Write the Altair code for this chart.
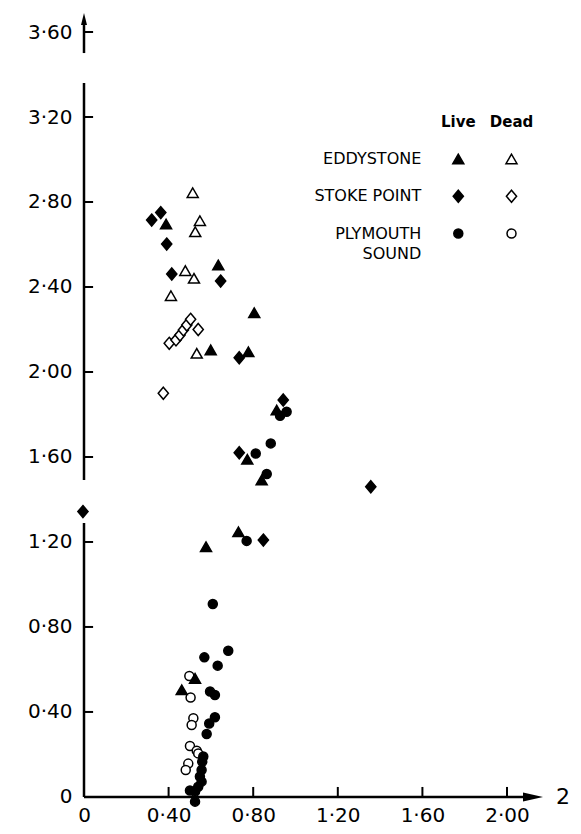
import altair as alt
import pandas as pd

# ---------------- data ----------------
SITES = ["Eddystone", "Stoke Point", "Plymouth Sound"]
STATUSES = ["Live", "Dead"]
LEGEND_LINES = ["EDDYSTONE", "STOKE POINT", "PLYMOUTH"]
LEGEND_SECOND_LINE = "SOUND"
X_LABEL = "2"

EDDY_LIVE_X = [0.388, 0.635, 0.805, 0.599, 0.777, 0.911, 0.772, 0.840, 0.577, 0.730, 0.525, 0.462]
EDDY_LIVE_Y = [2.696, 2.504, 2.279, 2.104, 2.095, 1.821, 1.589, 1.492, 1.178, 1.248, 0.558, 0.504]
EDDY_DEAD_X = [0.514, 0.548, 0.526, 0.479, 0.520, 0.411, 0.533]
EDDY_DEAD_Y = [2.844, 2.712, 2.660, 2.477, 2.441, 2.359, 2.088]
STOKE_LIVE_X = [0.320, 0.363, 0.391, 0.415, 0.646, 0.734, 0.942, 0.734, 1.356, -0.005, 0.848]
STOKE_LIVE_Y = [2.715, 2.750, 2.602, 2.461, 2.428, 2.067, 1.868, 1.620, 1.460, 1.343, 1.209]
STOKE_DEAD_X = [0.403, 0.435, 0.454, 0.470, 0.486, 0.504, 0.540, 0.375]
STOKE_DEAD_Y = [2.135, 2.151, 2.174, 2.198, 2.221, 2.248, 2.200, 1.900]
PLYM_LIVE_X = [0.958, 0.927, 0.883, 0.812, 0.864, 0.769, 0.609, 0.682, 0.569, 0.632, 0.596, 0.619,
               0.619, 0.592, 0.580, 0.559, 0.564, 0.556, 0.548, 0.556, 0.540, 0.525, 0.501, 0.525]
PLYM_LIVE_Y = [1.813, 1.794, 1.664, 1.616, 1.520, 1.205, 0.908, 0.688, 0.657, 0.618, 0.496, 0.480,
               0.375, 0.346, 0.296, 0.166, 0.190, 0.127, 0.096, 0.072, 0.048, 0.025, 0.030, -0.022]
PLYM_DEAD_X = [0.498, 0.504, 0.517, 0.509, 0.501, 0.533, 0.540, 0.493, 0.481]
PLYM_DEAD_Y = [0.569, 0.468, 0.370, 0.339, 0.240, 0.218, 0.205, 0.157, 0.127]

Y_TICKS = [0, 0.4, 0.8, 1.2, 1.6, 2.0, 2.4, 2.8, 3.2, 3.6]
X_TICKS = [0, 0.4, 0.8, 1.2, 1.6, 2.0]

# ---------------- layout / style constants ----------------
X_DOMAIN = [0, 2.312]
Y_DOMAIN = [-0.052, 3.713]
W, H = 489, 800
FONT = "DejaVu Sans"
Y_AXIS_BREAKS = [(0, 1.289), (1.492, 3.36), (3.501, 3.65)]   # broken y axis segments
X_AXIS_END = 2.08
X_ARROW_AT = 2.123
Y_ARROW_AT = 3.661
X_TICK_LEN = 0.047
Y_TICK_LEN = 0.043
X_LABEL_AT = 2.232

LBL = "datum.value == 0 ? '0' : replace(format(datum.value, '.2f'), '.', '·')"

xs = alt.Scale(domain=X_DOMAIN, nice=False, zero=False)
ys = alt.Scale(domain=Y_DOMAIN, nice=False, zero=False)
xaxis = alt.Axis(values=X_TICKS, labelExpr=LBL, domain=False, ticks=False, grid=False,
                 labelFontSize=20, labelFont=FONT, labelColor="black",
                 labelBaseline="alphabetic", labelPadding=13,
                 labelFlush=False, labelOverlap=False, title=None)
yaxis = alt.Axis(values=Y_TICKS, labelExpr=LBL, domain=False, ticks=False, grid=False,
                 labelFontSize=20, labelFont=FONT, labelColor="black", labelPadding=12,
                 labelBaseline="middle", labelOverlap=False, title=None)


def X(f):
    return alt.X(f, type="quantitative", scale=xs, axis=xaxis, title=None)


def Y(f):
    return alt.Y(f, type="quantitative", scale=ys, axis=yaxis, title=None)


fill_scale = alt.Scale(domain=STATUSES, range=["black", "white"])

TRI = "triangle-up"
DIA = "M0,-1L0.85,0L0,1L-0.85,0Z"
CIR = "circle"
SHAPES = {"Eddystone": (TRI, 121), "Stoke Point": (DIA, 144), "Plymouth Sound": (CIR, 81)}


def frame(site, status, xv, yv):
    return pd.DataFrame({"x": xv, "y": yv, "site": site, "status": status})


series = [
    frame("Eddystone", "Dead", EDDY_DEAD_X, EDDY_DEAD_Y),
    frame("Stoke Point", "Dead", STOKE_DEAD_X, STOKE_DEAD_Y),
    frame("Plymouth Sound", "Dead", PLYM_DEAD_X, PLYM_DEAD_Y),
    frame("Eddystone", "Live", EDDY_LIVE_X, EDDY_LIVE_Y),
    frame("Stoke Point", "Live", STOKE_LIVE_X, STOKE_LIVE_Y),
    frame("Plymouth Sound", "Live", PLYM_LIVE_X, PLYM_LIVE_Y),
]

point_layers = []
for df in series:
    shape, size = SHAPES[df["site"].iloc[0]]
    point_layers.append(
        alt.Chart(df).mark_point(shape=shape, size=size, filled=True, stroke="black",
                                 strokeWidth=1.5, opacity=1)
        .encode(x=X("x"), y=Y("y"),
                fill=alt.Fill("status:N", scale=fill_scale, legend=None))
    )

# axis lines drawn through the data scales
seg_df = pd.DataFrame({"x": [0] * len(Y_AXIS_BREAKS),
                       "y1": [a for a, b in Y_AXIS_BREAKS],
                       "y2": [b for a, b in Y_AXIS_BREAKS]})
yaxis_line = alt.Chart(seg_df).mark_rule(color="black", strokeWidth=2.5).encode(
    x=X("x"), y=Y("y1"), y2="y2")

xline_df = pd.DataFrame({"x1": [0], "x2": [X_AXIS_END], "y": [0]})
xaxis_line = alt.Chart(xline_df).mark_rule(color="black", strokeWidth=2.5).encode(
    x=X("x1"), x2="x2", y=Y("y"))

ytick_df = pd.DataFrame({"y": [v for v in Y_TICKS if v != 0]})
ytick_df["x1"] = 0
ytick_df["x2"] = Y_TICK_LEN
yticks = alt.Chart(ytick_df).mark_rule(color="black", strokeWidth=2).encode(
    x=X("x1"), x2="x2", y=Y("y"))

xtick_df = pd.DataFrame({"x": [v for v in X_TICKS if v != 0]})
xtick_df["y1"] = 0
xtick_df["y2"] = X_TICK_LEN
xticks = alt.Chart(xtick_df).mark_rule(color="black", strokeWidth=2).encode(
    x=X("x"), y=Y("y1"), y2="y2")

xarrow = alt.Chart(pd.DataFrame({"x": [X_ARROW_AT], "y": [0]})).mark_point(
    shape="M-1,-0.45L1,0L-1,0.45Z", size=400, filled=True, color="black", opacity=1
).encode(x=X("x"), y=Y("y"))
yarrow = alt.Chart(pd.DataFrame({"x": [0], "y": [Y_ARROW_AT]})).mark_point(
    shape="M-0.5,1L0,-1L0.5,1Z", size=144, filled=True, color="black", opacity=1
).encode(x=X("x"), y=Y("y"))

xlabel = alt.Chart(pd.DataFrame({"x": [X_LABEL_AT], "y": [0], "t": [X_LABEL]})).mark_text(
    align="left", baseline="middle", fontSize=22, font=FONT, color="black"
).encode(x=X("x"), y=Y("y"), text="t:N")

main = alt.layer(yaxis_line, xaxis_line, yticks, xticks, xarrow, yarrow, xlabel, *point_layers)

# ---------------- legend (grid of site rows x status columns) ----------------
lx = alt.Scale(domain=STATUSES, range=[374.3, 427.5], padding=0)
ly = alt.Scale(domain=["_hdr"] + SITES, range=[113.7, 225.5], padding=0)

leg_layers = []
for site in SITES:
    shape, size = SHAPES[site]
    df = pd.DataFrame({"col": STATUSES, "row": site, "status": STATUSES})
    leg_layers.append(
        alt.Chart(df).mark_point(shape=shape, size=size, filled=True, stroke="black",
                                 strokeWidth=1.5, opacity=1)
        .encode(x=alt.X("col:N", scale=lx, axis=None),
                y=alt.Y("row:N", scale=ly, axis=None),
                fill=alt.Fill("status:N", scale=fill_scale, legend=None))
    )

hdr_df = pd.DataFrame({"col": STATUSES, "row": "_hdr", "t": STATUSES})
hdr = alt.Chart(hdr_df).mark_text(fontSize=15, fontWeight="bold", font=FONT, color="black",
                                  baseline="middle").encode(
    x=alt.X("col:N", scale=lx, axis=None), y=alt.Y("row:N", scale=ly, axis=None), text="t:N")

lab_df = pd.DataFrame({"col": "Live", "row": SITES, "t": LEGEND_LINES})
labs = alt.Chart(lab_df).mark_text(fontSize=16, font=FONT, color="black", align="right",
                                   baseline="middle", dx=-37).encode(
    x=alt.X("col:N", scale=lx, axis=None), y=alt.Y("row:N", scale=ly, axis=None), text="t:N")

lab2_df = pd.DataFrame({"col": ["Live"], "row": [SITES[2]], "t": [LEGEND_SECOND_LINE]})
labs2 = alt.Chart(lab2_df).mark_text(fontSize=16, font=FONT, color="black", align="right",
                                     baseline="middle", dx=-37, dy=20).encode(
    x=alt.X("col:N", scale=lx, axis=None), y=alt.Y("row:N", scale=ly, axis=None), text="t:N")

legend = alt.layer(*leg_layers, hdr, labs, labs2)

chart = (
    alt.layer(main, legend)
    .resolve_scale(x="independent", y="independent")
    .properties(width=W, height=H,
                autosize=alt.AutoSizeParams(type="none"),
                padding={"left": 76, "top": 0, "right": 0, "bottom": 18},
                background="white")
    .configure_view(stroke=None)
)

chart.save("out.html", embed_options={"renderer": "svg", "actions": False})
